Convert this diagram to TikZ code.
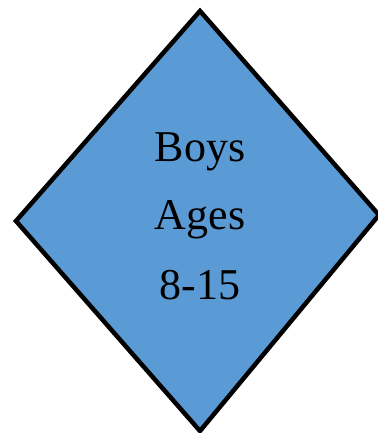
\documentclass[tikz,border=0pt]{standalone}
\usepackage{fontspec}
\setmainfont{Liberation Serif}
\definecolor{diafill}{HTML}{5B9BD5}
\begin{document}
\begin{tikzpicture}[x=1pt,y=1pt,
  label/.style={anchor=base,inner sep=0pt,font=\fontsize{44}{44}\selectfont}]
\useasboundingbox (0,0) rectangle (377,433);
\coordinate (t) at (200,422);
\coordinate (r) at (379,218);
\coordinate (b) at (200,2);
\coordinate (l) at (16,212);
\draw[line width=4.5pt,fill=diafill,line join=miter] (t) -- (r) -- (b) -- (l) -- cycle;
\node[label] (n1) at (200,271) {Boys};
\node[label] (n2) at (200,203) {Ages};
\node[label] (n3) at (200,133) {8-15};
\end{tikzpicture}
\end{document}
